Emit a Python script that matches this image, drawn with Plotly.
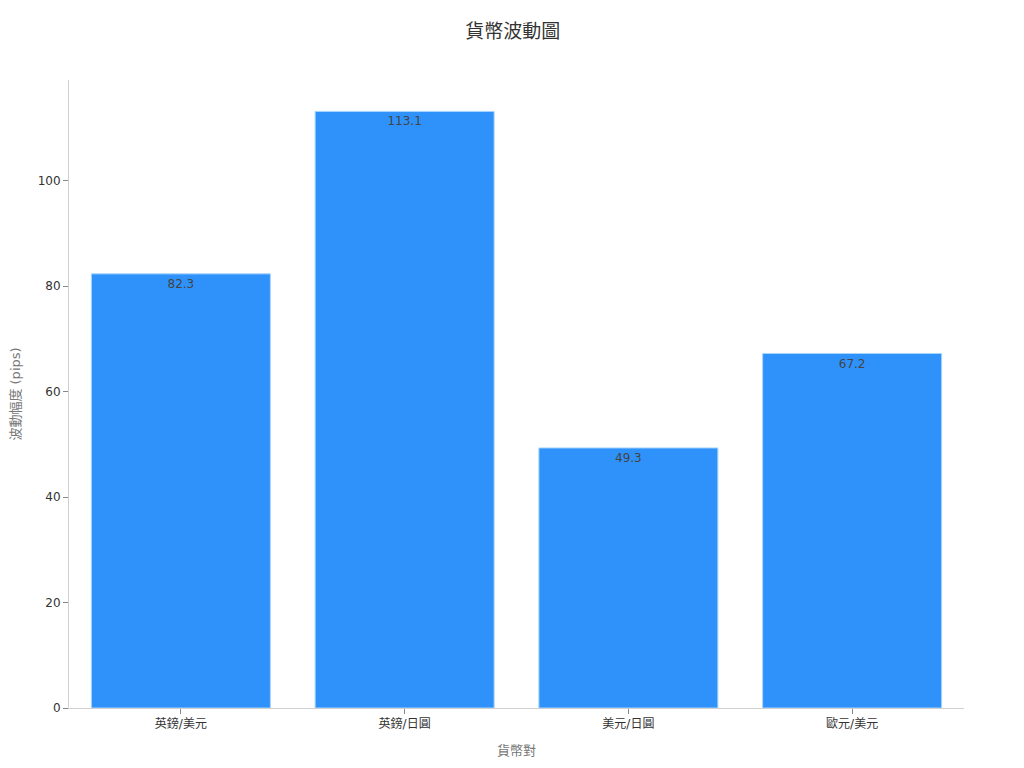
import plotly.graph_objects as go

pairs = ['英鎊/美元', '英鎊/日圓', '美元/日圓', '歐元/美元']
volatility = [82.3, 113.1, 49.3, 67.2]

fig = go.Figure([go.Bar(x=pairs, y=volatility, text=volatility)])
fig.update_traces(marker_color='#2E92FA', marker_line_color='#A8D4FF',
                  marker_line_width=1, textposition='inside', insidetextanchor='end',
                  textfont=dict(color='#444444', size=12), texttemplate='%{text:.1f}')
fig.update_layout(
    template='simple_white',
    width=1024, height=768,
    font=dict(family='DejaVu Sans, Noto Sans CJK TC', size=12, color='#333333'),
    title=dict(text='貨幣波動圖', x=0.493, xanchor='center', y=0.978,
               font=dict(size=19, color='#333333')),
    margin=dict(l=61, r=68, t=72, b=68),
    bargap=0.2,
    showlegend=False,
)
fig.update_xaxes(title=dict(text='貨幣對', font=dict(color='#777777', size=13), standoff=15),
                 linecolor='#d0d0d0', ticks='outside', ticklen=5, tickcolor='#888888')
fig.update_yaxes(title=dict(text='波動幅度 (pips)', font=dict(color='#777777', size=13), standoff=15),
                 automargin=False,
                 linecolor='#d0d0d0', ticks='outside', ticklen=5, tickcolor='#888888',
                 showgrid=False, zeroline=False)

fig.write_html("out.html")
